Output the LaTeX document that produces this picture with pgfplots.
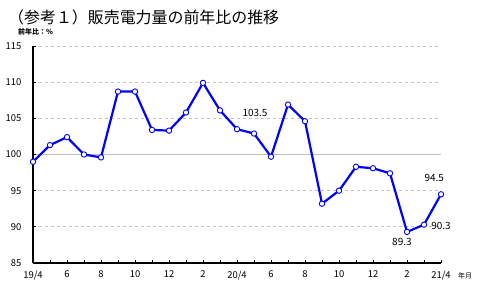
\documentclass[border=0pt]{standalone}
\usepackage{fontspec}
\setmainfont{Noto Sans CJK JP}
\usepackage{pgfplots}
\pgfplotsset{compat=1.18}
\definecolor{lineblue}{RGB}{0,0,255}
\definecolor{gridgray}{RGB}{192,192,192}
\begin{document}
\begin{tikzpicture}[x=1bp,y=1bp]
\path[use as bounding box] (0,0) rectangle (479,288);
\node[anchor=west, inner sep=0pt, font=\fontsize{16}{16}\selectfont] at (8,271) {（参考１）販売電力量の前年比の推移};
\node[anchor=west, inner sep=0pt, font=\fontsize{7}{7}\selectfont\bfseries] at (18,256) {前年比：\%};
\node[anchor=west, inner sep=0pt, font=\fontsize{7}{7}\selectfont] at (458,12) {年月};
\begin{axis}[
  at={(33bp,25bp)}, anchor=south west,
  scale only axis, width=408bp, height=217bp,
  xmin=0, xmax=24, ymin=85, ymax=115,
  clip=false,
  axis lines*=left,
  axis line style={-, black, line width=1.2bp},
  xtick={0,2,...,24},
  xticklabels={19/4,6,8,10,12,2,20/4,6,8,10,12,2,21/4},
  minor xtick={1,3,...,23},
  ytick={85,90,95,105,110,115},
  extra y ticks={100},
  extra y tick style={ymajorgrids=true, major grid style={solid, gridgray, line width=1bp}},
  ymajorgrids=true,
  major grid style={dashed, dash pattern=on 3bp off 3bp, gridgray, line width=0.8bp},
  tick align=inside,
  major tick length=3bp, minor tick length=3bp,
  tick style={black, line width=0.8bp},
  /pgf/number format/assume math mode=true,
  ticklabel style={font=\fontsize{9.5}{9.5}\selectfont},
  yticklabel style={xshift=-8bp},
  xticklabel style={yshift=-4.5bp},
]
\addplot[lineblue, line width=2.2bp, mark=*, mark size=2.7bp,
  mark options={fill=white, draw=lineblue, line width=0.9bp}]
coordinates {
(0,99.0) (1,101.3) (2,102.4) (3,100.0) (4,99.6) (5,108.7) (6,108.7)
(7,103.4) (8,103.3) (9,105.8) (10,109.9) (11,106.1) (12,103.5)
(13,102.9) (14,99.7) (15,106.9) (16,104.6) (17,93.2) (18,95.0)
(19,98.3) (20,98.1) (21,97.4) (22,89.3) (23,90.3) (24,94.5)
};
\node[font=\fontsize{10}{10}\selectfont] at (axis cs:13.06,105.76) {103.5};
\node[font=\fontsize{10}{10}\selectfont] at (axis cs:23.6,96.8) {94.5};
\node[font=\fontsize{10}{10}\selectfont] at (axis cs:24.0,90.17) {90.3};
\node[font=\fontsize{10}{10}\selectfont] at (axis cs:21.7,87.87) {89.3};
\end{axis}
\end{tikzpicture}
\end{document}
